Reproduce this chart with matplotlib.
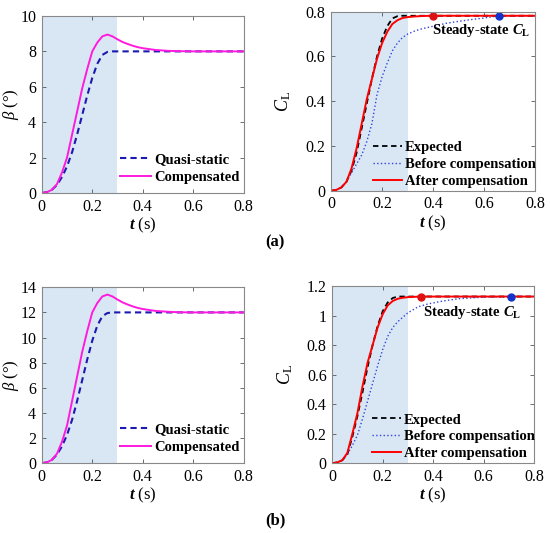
import numpy as np
import matplotlib
matplotlib.use("Agg")
import matplotlib.pyplot as plt
from matplotlib.ticker import FuncFormatter

plt.rcParams['font.family'] = ['Liberation Serif', 'DejaVu Serif']
plt.rcParams['mathtext.fontset'] = 'custom'
plt.rcParams['mathtext.rm'] = 'Liberation Serif'
plt.rcParams['mathtext.it'] = 'Liberation Serif:italic'
plt.rcParams['mathtext.bf'] = 'Liberation Serif:bold'
plt.rcParams['mathtext.bfit'] = 'Liberation Serif:bold:italic'

###############################################################################
# Data

# (a) pitch angle
t_beta_a = [0, .02, .04, .06, .08, .10, .12, .14, .16, .18, .20, .22, .24, .26, .28, .30, .8]
beta_qs_a = [0, .04, .18, .45, .9, 1.5, 2.3, 3.3, 4.4, 5.5, 6.5, 7.3, 7.8, 7.97, 8.0, 8.0, 8.0]

t_comp_a = [0, .02, .04, .06, .08, .10, .12, .14, .16, .18, .20, .22, .24, .26, .28, .30,
            .32, .34, .36, .38, .40, .45, .50, .55, .60, .8]
beta_comp_a = [0, .04, .18, .5, 1.15, 2.0, 3.3, 4.6, 5.9, 7.0, 8.0, 8.5, 8.85, 8.95, 8.85, 8.68,
               8.53, 8.42, 8.32, 8.24, 8.18, 8.08, 8.03, 8.01, 8.0, 8.0]

# (b) pitch angle
beta_qs_b = [0, .06, .27, .68, 1.35, 2.25, 3.45, 4.95, 6.6, 8.25, 9.75, 10.95, 11.7, 11.95, 12.0, 12.0, 12.0]
beta_comp_b = [0, .06, .27, .75, 1.7, 3.0, 4.95, 6.9, 8.85, 10.5, 12.0, 12.75, 13.27, 13.42, 13.27, 13.02,
               12.8, 12.63, 12.48, 12.36, 12.27, 12.12, 12.05, 12.01, 12.0, 12.0]

# (a) lift coefficient
t_exp_a = [0, .02, .04, .06, .08, .10, .12, .14, .16, .18, .20, .22, .24, .26, .28, .30, .8]
cl_exp_a = [0, .004, .015, .04, .09, .17, .28, .39, .5, .6, .68, .735, .77, .78, .782, .782, .782]

t_bef_a = [0, .02, .04, .06, .08, .10, .12, .14, .16, .18, .20, .22, .24, .26, .28, .30,
           .33, .36, .40, .45, .50, .55, .60, .66, .8]
cl_bef_a = [0, .004, .015, .04, .08, .12, .16, .22, .30, .43, .51, .57, .625, .66, .685, .70,
            .715, .725, .735, .748, .757, .765, .772, .782, .782]

t_aft_a = [0, .02, .04, .06, .08, .10, .12, .14, .16, .18, .20, .22, .24, .26, .28, .30,
           .33, .36, .40, .8]
cl_aft_a = [0, .004, .015, .04, .1, .19, .3, .41, .50, .59, .66, .71, .745, .762, .772, .776,
            .779, .781, .782, .782]

ss_t_a = [0.4, 0.66]
ss_cl_a = [0.782, 0.782]

# (b) lift coefficient
t_exp_b = [0, .02, .04, .06, .08, .10, .12, .14, .16, .18, .20, .22, .24, .26, .28, .8]
cl_exp_b = [0, .005, .02, .06, .18, .32, .48, .65, .8, .93, 1.03, 1.09, 1.12, 1.13, 1.13, 1.13]

t_bef_b = [0, .02, .04, .06, .08, .10, .12, .14, .16, .18, .20, .22, .24, .26, .28, .30,
           .34, .38, .44, .50, .56, .62, .71, .8]
cl_bef_b = [0, .005, .02, .06, .12, .19, .3, .42, .54, .66, .77, .86, .92, .96, .99, 1.02,
            1.06, 1.08, 1.1, 1.115, 1.122, 1.127, 1.13, 1.13]

t_aft_b = [0, .02, .04, .06, .08, .10, .12, .14, .16, .18, .20, .22, .24, .26, .28, .30, .35, .8]
cl_aft_b = [0, .005, .02, .07, .2, .34, .52, .68, .8, .92, 1.01, 1.07, 1.1, 1.115, 1.122, 1.126, 1.13, 1.13]

ss_t_b = [0.35, 0.71]
ss_cl_b = [1.13, 1.13]

###############################################################################

SHADE = '#d9e7f4'
fmt = FuncFormatter(lambda v, p: '%g' % round(v, 6))


def style_ax(ax, ymax, ystep):
    ax.axvspan(0, 0.3, color=SHADE, lw=0, zorder=0)
    ax.set_xlim(0, 0.8)
    ax.set_ylim(0, ymax)
    ax.set_xticks(np.arange(0, 0.81, 0.2))
    ax.set_yticks(np.arange(0, ymax + 1e-9, ystep))
    ax.xaxis.set_major_formatter(fmt)
    ax.yaxis.set_major_formatter(fmt)
    ax.tick_params(direction='in', top=True, right=True, labelsize=11.5,
                   length=3, width=0.6, color='#555555', pad=4)
    for s in ax.spines.values():
        s.set_color('#888888')
        s.set_linewidth(0.8)
    ax.set_xlabel(r'$\mathbfit{t}$ (s)', fontsize=12, labelpad=1)


def plot_beta(ax, qs, comp, ymax):
    style_ax(ax, ymax, 2)
    ax.plot(t_beta_a, qs, '--', color='#1a1ab0', lw=1.5, label='Quasi-static', dashes=(3, 2))
    ax.plot(t_comp_a, comp, '-', color='#ff1adf', lw=1.4, label='Compensated')
    ax.set_ylabel(r'$\beta$ (°)', fontsize=12)
    ax.yaxis.set_label_coords(-0.105, 0.5)
    ax.legend(loc='lower right', frameon=False, prop={'weight': 'bold', 'size': 10.5},
              handlelength=2.1, handletextpad=0.25, borderaxespad=0.2, labelspacing=0.35,
              bbox_to_anchor=(1.025, 0.0))


def plot_cl(ax, te, ce, tb, cb, ta, ca, ts, cs, ymax, txt_xy):
    style_ax(ax, ymax, 0.2)
    ax.plot(te, ce, '--', color='black', lw=1.3, label='Expected', dashes=(3, 2))
    ax.plot(tb, cb, ':', color='#3344dd', lw=1.0, label='Before compensation')
    ax.plot(ta, ca, '-', color='#ff0000', lw=1.4, label='After compensation')
    ax.plot(ts[0], cs[0], 'o', color='#dd1111', ms=5)
    ax.plot(ts[1], cs[1], 'o', color='#1133cc', ms=5)
    ax.text(txt_xy[0], txt_xy[1], r'Steady-state $\mathbfit{C}_\mathbf{L}$', fontsize=10.5,
            fontweight='bold', va='center')
    ax.set_ylabel(r'$C_\mathrm{L}$', fontsize=13)
    ax.yaxis.set_label_coords(-0.185, 0.5)
    ax.legend(loc='lower right', frameon=False, prop={'weight': 'bold', 'size': 10.5},
              handlelength=2.0, handletextpad=0.2, borderaxespad=0.1, labelspacing=0.25,
              bbox_to_anchor=(1.04, -0.025))


fig = plt.figure(figsize=(5.5, 5.33), dpi=100)

ax1 = fig.add_axes([0.076, 0.638, 0.367, 0.332])
plot_beta(ax1, beta_qs_a, beta_comp_a, 10)

ax2 = fig.add_axes([0.602, 0.642, 0.371, 0.336])
plot_cl(ax2, t_exp_a, cl_exp_a, t_bef_a, cl_bef_a, t_aft_a, cl_aft_a,
        ss_t_a, ss_cl_a, 0.8, (0.395, 0.715))

ax3 = fig.add_axes([0.076, 0.131, 0.367, 0.330])
plot_beta(ax3, beta_qs_b, beta_comp_b, 14)

ax4 = fig.add_axes([0.604, 0.131, 0.367, 0.332])
plot_cl(ax4, t_exp_b, cl_exp_b, t_bef_b, cl_bef_b, t_aft_b, cl_aft_b,
        ss_t_b, ss_cl_b, 1.2, (0.36, 1.02))

fig.text(0.5, 1 - 242 / 533, '(a)', ha='center', va='center', fontsize=12, fontweight='bold')
fig.text(0.5, 1 - 520 / 533, '(b)', ha='center', va='center', fontsize=12, fontweight='bold')

fig.savefig('out.png', dpi=100, facecolor='white')
